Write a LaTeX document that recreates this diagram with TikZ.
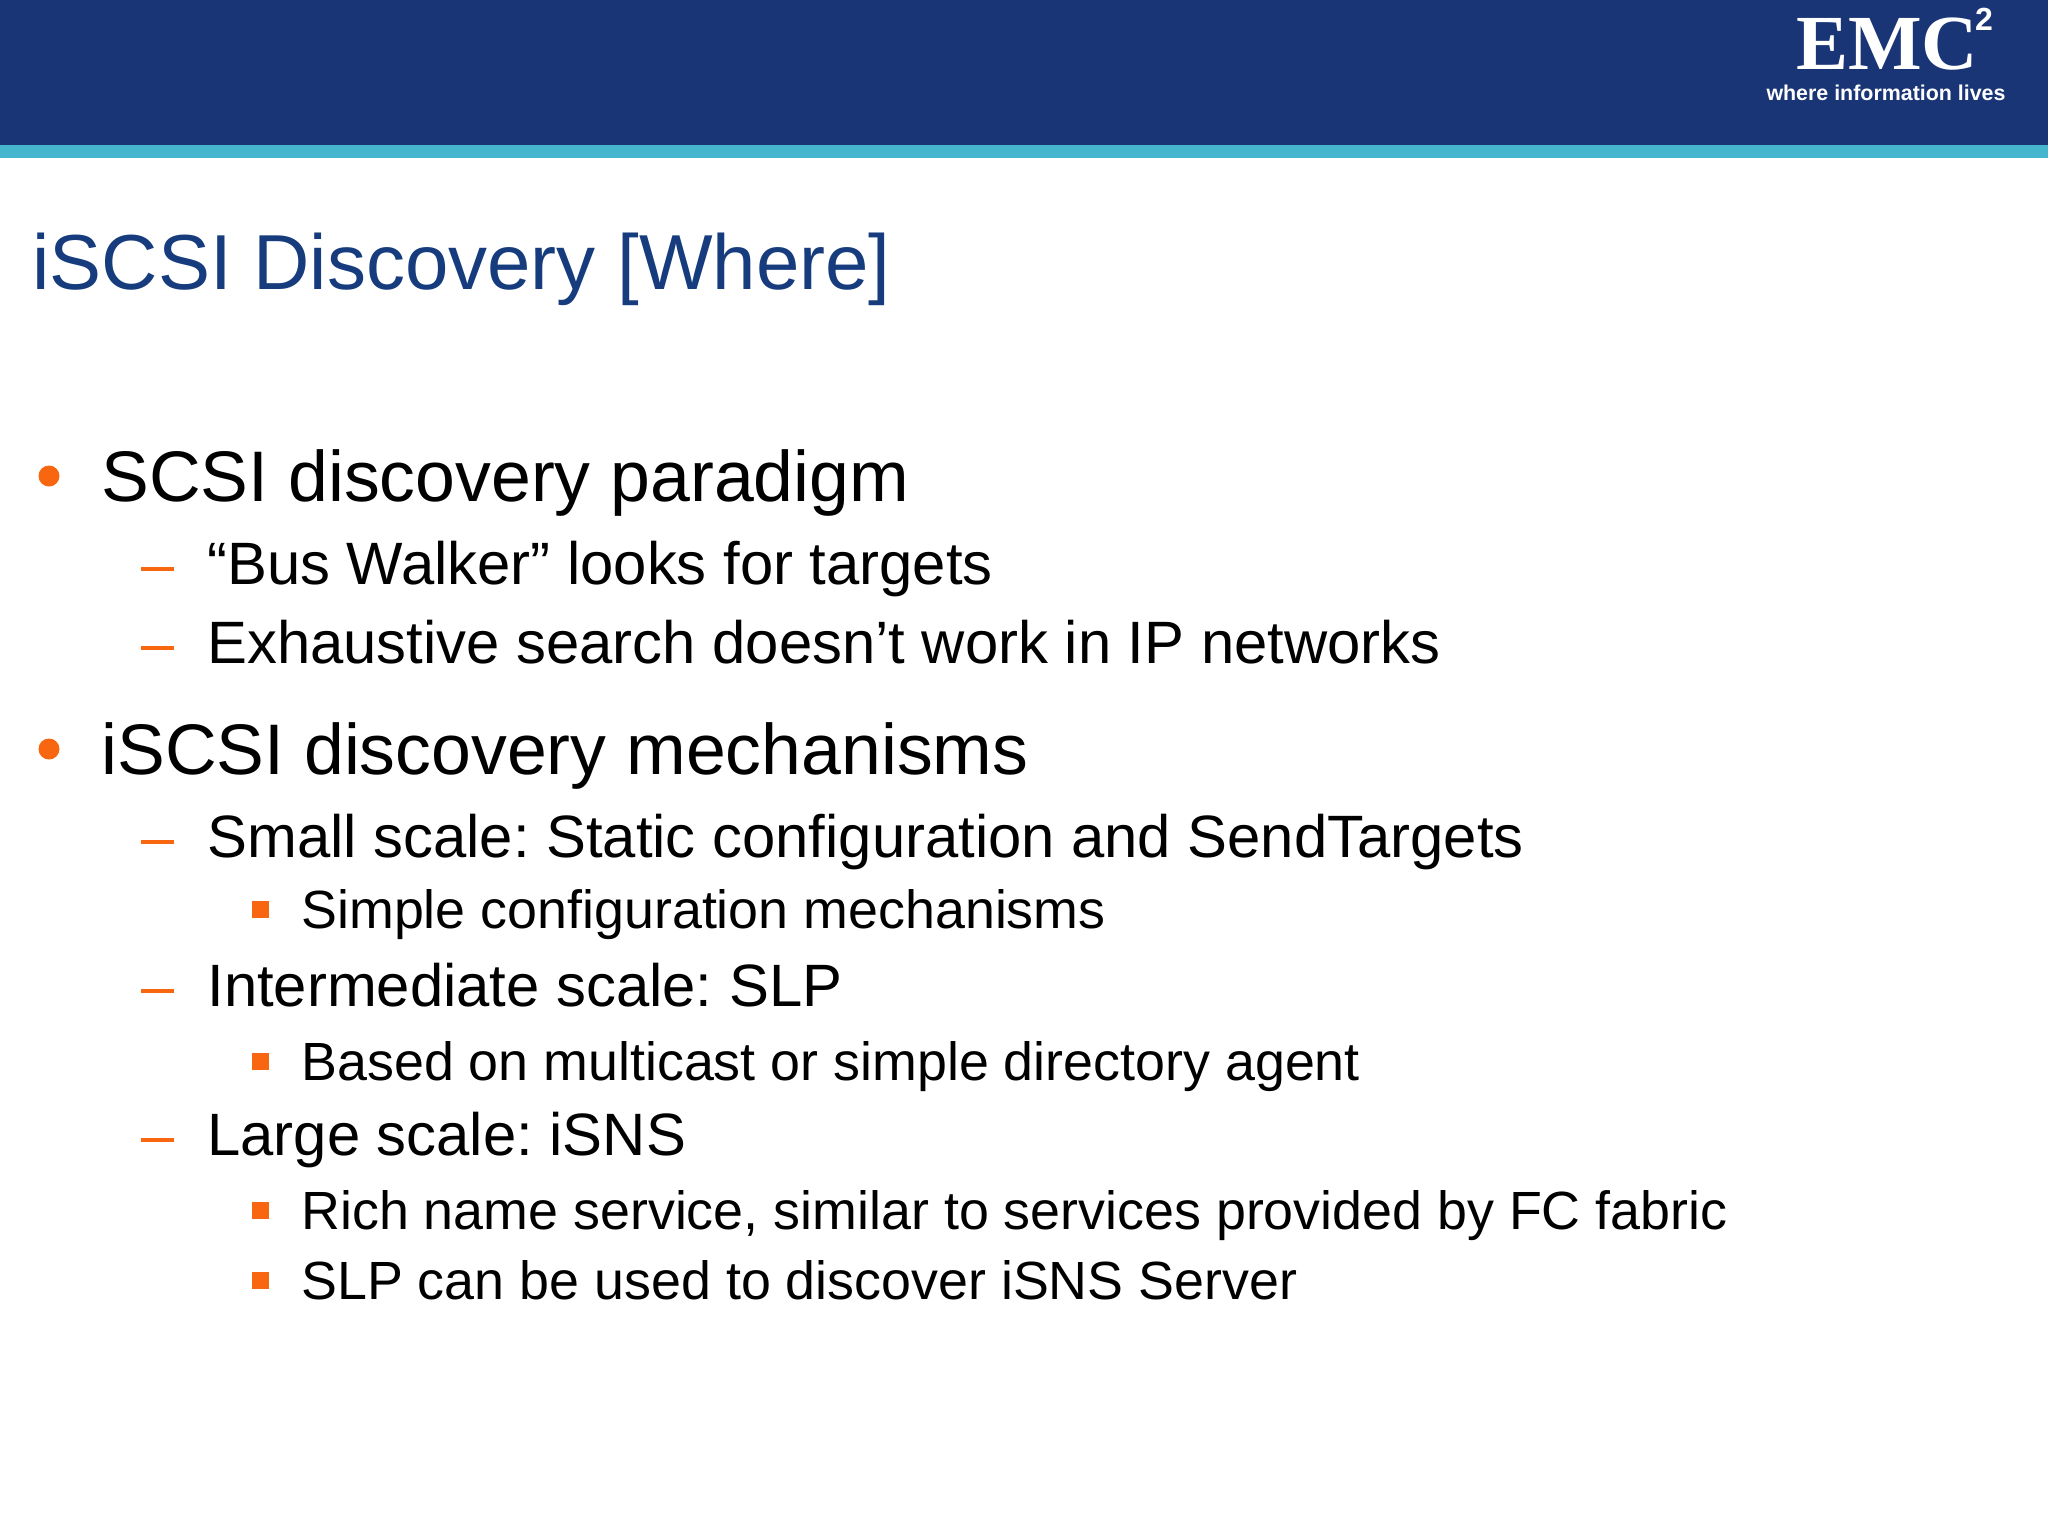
\documentclass[tikz,border=0pt]{standalone}
\usepackage{fontspec}
\setmainfont{Liberation Sans}
\usepackage{tikz}
\definecolor{bannerblue}{HTML}{1A3576}
\definecolor{stripcyan}{HTML}{46B6CF}
\definecolor{titleblue}{HTML}{173C7D}
\definecolor{markorange}{HTML}{F8660F}
\tikzset{
  lvla/.style={anchor=base west,inner sep=0pt,font=\fontsize{35.8}{36}\selectfont},
  lvlb/.style={anchor=base west,inner sep=0pt,font=\fontsize{29.9}{30}\selectfont},
  lvlc/.style={anchor=base west,inner sep=0pt,font=\fontsize{26.9}{27}\selectfont},
  dota/.style={circle,fill=markorange,inner sep=0pt,minimum size=10.5pt},
  dashb/.style={fill=markorange,inner sep=0pt,minimum width=16.5pt,minimum height=2pt},
  sqc/.style={fill=markorange,inner sep=0pt,minimum size=8.5pt}
}
\begin{document}
\frenchspacing
\begin{tikzpicture}[x=0.5pt,y=-0.5pt]
 \useasboundingbox (0,0) rectangle (2048,1536);

 \fill[bannerblue] (0,0) rectangle (2048,145);
 \fill[stripcyan] (0,145) rectangle (2048,158);

 \node[anchor=base,inner sep=0pt,text=white] (emc) at (1887,70) {\fontspec{Liberation Serif}\bfseries\fontsize{39}{39}\selectfont EMC};
 \node[anchor=base,inner sep=0pt,text=white] (emc2) at (1984,31) {\fontspec{Liberation Sans}\bfseries\fontsize{16}{16}\selectfont 2};
 \node[anchor=base,inner sep=0pt,text=white] (lives) at (1886,101) {\bfseries\fontsize{10.7}{11}\selectfont where information lives};

 \node[anchor=base west,inner sep=0pt,text=titleblue,font=\fontsize{39}{39}\selectfont] (title) at (32,289) {iSCSI Discovery [Where]};

 \node[dota] (d1) at (49,476) {};
 \node[lvla] (t1) at (101,501) {SCSI discovery paradigm};
 \node[dashb] (b1) at (157,569) {};
 \node[lvlb] (t2) at (207,584) {“Bus Walker” looks for targets};
 \node[dashb] (b2) at (157,648) {};
 \node[lvlb] (t3) at (207,663) {Exhaustive search doesn’t work in IP networks};

 \node[dota] (d2) at (49,749) {};
 \node[lvla] (t4) at (101,774) {iSCSI discovery mechanisms};
 \node[dashb] (b3) at (157,842) {};
 \node[lvlb] (t5) at (207,857) {Small scale: Static configuration and SendTargets};
 \node[sqc] (s1) at (260,909) {};
 \node[lvlc] (t6) at (301,928) {Simple configuration mechanisms};
 \node[dashb] (b4) at (157,991) {};
 \node[lvlb] (t7) at (207,1006) {Intermediate scale: SLP};
 \node[sqc] (s2) at (260,1061) {};
 \node[lvlc] (t8) at (301,1080) {Based on multicast or simple directory agent};
 \node[dashb] (b5) at (157,1140) {};
 \node[lvlb] (t9) at (207,1155) {Large scale: iSNS};
 \node[sqc] (s3) at (260,1210) {};
 \node[lvlc] (t10) at (301,1229) {Rich name service, similar to services provided by FC fabric};
 \node[sqc] (s4) at (260,1280) {};
 \node[lvlc] (t11) at (301,1299) {SLP can be used to discover iSNS Server};

\end{tikzpicture}
\end{document}
